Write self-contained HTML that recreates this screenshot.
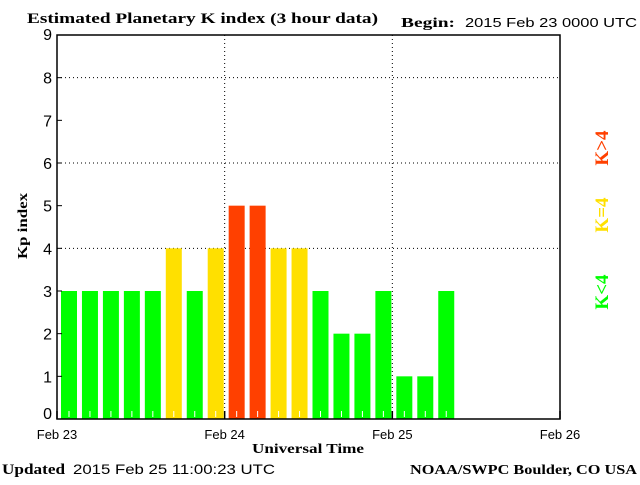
<!DOCTYPE html>
<html><head><meta charset="utf-8"><style>
body{margin:0;background:#fff;width:640px;height:480px;overflow:hidden}
svg text{font-family:"Liberation Sans",sans-serif}
.serif{font-family:"Liberation Serif",serif;font-weight:bold}
</style></head><body>
<svg id="c" width="640" height="480" viewBox="0 0 640 480">
<text class="serif" x="27" y="23" font-size="15" textLength="351" lengthAdjust="spacingAndGlyphs">Estimated Planetary K index (3 hour data)</text>
<text class="serif" x="401" y="27" font-size="14" textLength="54" lengthAdjust="spacingAndGlyphs">Begin:</text>
<text x="465" y="27" font-size="13" textLength="172" lengthAdjust="spacingAndGlyphs">2015 Feb 23 0000 UTC</text>
<g id="grid"></g>
<g id="bars"></g>
<rect x="57" y="35" width="503" height="384" fill="none" stroke="#000" stroke-width="1.5"/>
<g id="axes"></g>
<text class="serif" x="27" y="226" font-size="14" transform="rotate(-90 27 226)" text-anchor="middle" textLength="66" lengthAdjust="spacingAndGlyphs">Kp index</text>
<text class="serif" x="308" y="453" font-size="14" text-anchor="middle" textLength="112" lengthAdjust="spacingAndGlyphs">Universal Time</text>
<text class="serif" x="608" y="148" font-size="19" fill="#ff4000" transform="rotate(-90 608 148)" text-anchor="middle">K&gt;4</text>
<text class="serif" x="608" y="215" font-size="19" fill="#ffe000" transform="rotate(-90 608 215)" text-anchor="middle">K=4</text>
<text class="serif" x="608" y="292" font-size="19" fill="#00ff00" transform="rotate(-90 608 292)" text-anchor="middle">K&lt;4</text>
<text class="serif" x="2" y="474" font-size="15" textLength="63" lengthAdjust="spacingAndGlyphs">Updated</text>
<text x="73" y="474" font-size="14" textLength="202" lengthAdjust="spacingAndGlyphs">2015 Feb 25 11:00:23 UTC</text>
<text class="serif" x="410" y="474" font-size="14" textLength="227" lengthAdjust="spacingAndGlyphs">NOAA/SWPC Boulder, CO USA</text>
</svg>
<script>
const kpValues=[3,3,3,3,3,4,3,4,5,5,4,4,3,2,2,3,1,1,3];
const yTicks=[0,1,2,3,4,5,6,7,8,9];
const xTickLabels=["Feb 23","Feb 24","Feb 25","Feb 26"];
const NS="http://www.w3.org/2000/svg";
const X0=57,X1=560,Y0=419,Y1=35;
const slots=24;
function xs(i){return X0+(X1-X0)*i/slots;}
function ys(v){return Y0-(Y0-Y1)*v/9;}
function mk(t,a,p){const e=document.createElementNS(NS,t);for(const k in a)e.setAttribute(k,a[k]);p.appendChild(e);return e;}
const grid=document.getElementById('grid'),bars=document.getElementById('bars'),axes=document.getElementById('axes');
yTicks.forEach(v=>{
 if([4,6,8].includes(v)){const l=mk('line',{x1:X0,x2:X1,y1:ys(v),y2:ys(v),stroke:'#000','stroke-dasharray':'1,3'},grid);
 
 }
 const ty=v===0?ys(v)-6+6:ys(v)+6;
 const t=mk('text',{x:X0-5,y:ys(v)+(v===0?0:v===9?5:6),'font-size':16,'text-anchor':'end'},axes);t.textContent=v;
 
 
 const tk=mk('line',{x1:X0,x2:X0+5,y1:ys(v),y2:ys(v),stroke:'#000'},axes);
 
 
});
xTickLabels.forEach((s,d)=>{
 const x=xs(d*8);
 if(d>0&&d<3){const g=mk('line',{x1:x,x2:x,y1:Y1,y2:Y0,stroke:'#000','stroke-dasharray':'1,3'},grid);
 
 }
 const tk=mk('line',{x1:x,x2:x,y1:Y0-8,y2:Y0,stroke:'#000','stroke-width':1.5},axes);
 
 
 const t=mk('text',{x:x,y:439,'font-size':13,'text-anchor':'middle'},axes);t.textContent=s;
 
 
});
kpValues.forEach((v,i)=>{
 const c=v>4?'#ff4000':(v==4?'#ffe000':'#00ff00');
 const x=xs(i)+4;
 const r=mk('rect',{x:x,y:ys(v),width:16,height:Y0-ys(v),fill:c},bars);
 
 
 const w=mk('line',{x1:x+8,x2:x+8,y1:Y0-8,y2:Y0-2,stroke:'#fff'},bars);
 
 
});
</script>
</body></html>
